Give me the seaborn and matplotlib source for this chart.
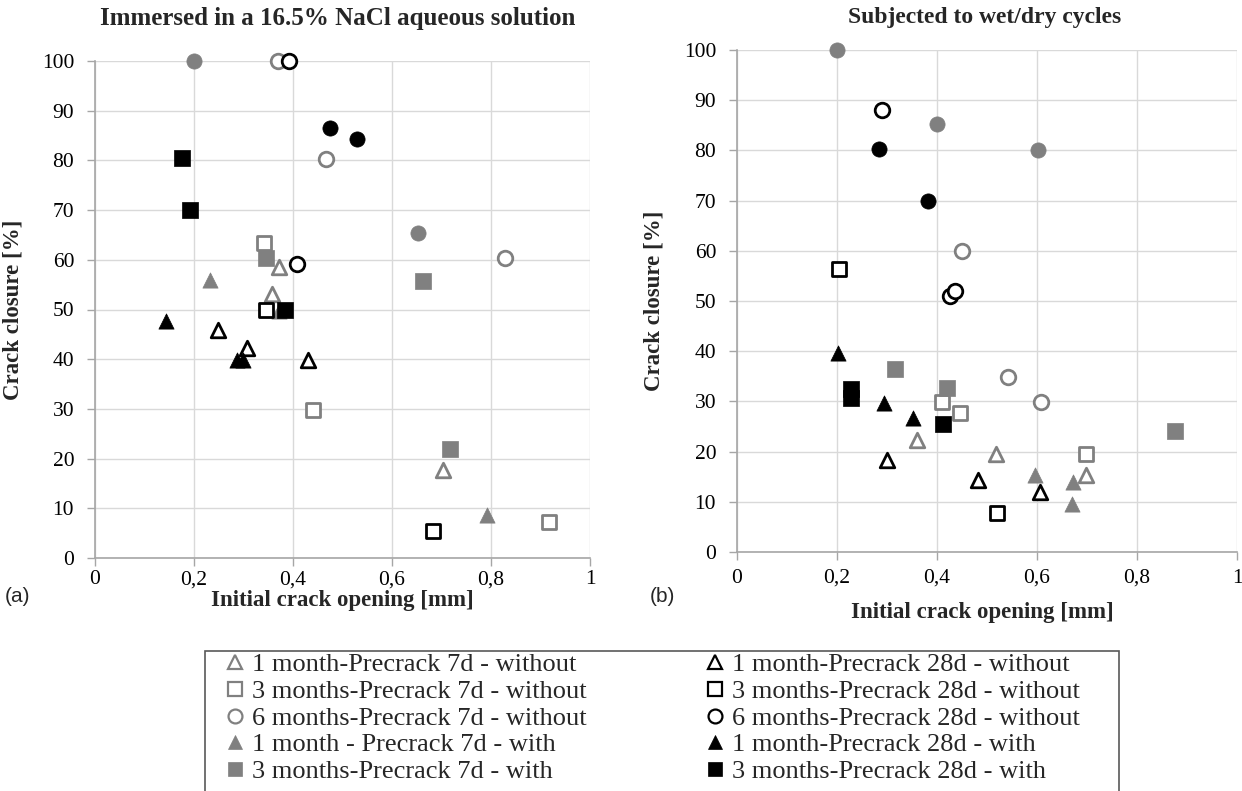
import matplotlib
matplotlib.use("Agg")
import matplotlib.pyplot as plt
from matplotlib.lines import Line2D
from matplotlib.patches import Rectangle
import seaborn as sns
import pandas as pd

# ---------------- data ----------------
series_names = [
    "1 month-Precrack 7d - without", "3 months-Precrack 7d - without",
    "6 months-Precrack 7d - without", "1 month - Precrack 7d - with",
    "3 months-Precrack 7d - with",
    "1 month-Precrack 28d - without", "3 months-Precrack 28d - without",
    "6 months-Precrack 28d - without", "1 month-Precrack 28d - with",
    "3 months-Precrack 28d - with",
    "6 months-Precrack 7d - with", "6 months-Precrack 28d - with",
]
series_marker = ["^", "s", "o", "^", "s", "^", "s", "o", "^", "s", "o", "o"]
series_color = ["#808080"] * 5 + ["#000000"] * 5 + ["#808080", "#000000"]
series_filled = [False, False, False, True, True,
                 False, False, False, True, True, True, True]

# panel (a): immersed
a_x = {
    0: [0.371, 0.357, 0.703], 1: [0.342, 0.441, 0.918], 2: [0.370, 0.466, 0.829],
    3: [0.233, 0.371, 0.791], 4: [0.345, 0.663, 0.718],
    5: [0.249, 0.308, 0.431], 6: [0.345, 0.683], 7: [0.392, 0.409],
    8: [0.143, 0.286, 0.299], 9: [0.175, 0.191, 0.383],
    10: [0.200, 0.653], 11: [0.475, 0.530],
}
a_y = {
    0: [58.6, 53.2, 17.8], 1: [63.3, 29.7, 7.3], 2: [100.0, 80.3, 60.4],
    3: [56.0, 49.6, 8.7], 4: [60.4, 55.8, 21.9],
    5: [45.9, 42.2, 39.8], 6: [50.0, 5.4], 7: [100.0, 59.2],
    8: [47.7, 39.8, 39.8], 9: [80.5, 70.0, 50.0],
    10: [100.0, 65.3], 11: [86.5, 84.3],
}
# panel (b): wet/dry cycles
b_x = {
    0: [0.359, 0.517, 0.698], 1: [0.410, 0.446, 0.697], 2: [0.449, 0.541, 0.608],
    3: [0.596, 0.672, 0.669], 4: [0.315, 0.420, 0.876],
    5: [0.300, 0.481, 0.605], 6: [0.204, 0.519], 7: [0.290, 0.425, 0.435],
    8: [0.201, 0.293, 0.352], 9: [0.228, 0.228, 0.411],
    10: [0.200, 0.399, 0.602], 11: [0.284, 0.382],
}
b_y = {
    0: [22.3, 19.6, 15.3], 1: [29.9, 27.6, 19.6], 2: [59.9, 34.9, 29.8],
    3: [15.3, 14.0, 9.5], 4: [36.4, 32.6, 24.1],
    5: [18.3, 14.3, 12.0], 6: [56.4, 7.8], 7: [88.1, 51.0, 52.0],
    8: [39.7, 29.6, 26.6], 9: [32.4, 30.6, 25.5],
    10: [100.0, 85.3, 80.1], 11: [80.3, 70.0],
}

titles = ["Immersed in a 16.5% NaCl aqueous solution", "Subjected to wet/dry cycles"]
x_ticks = [0, 0.2, 0.4, 0.6, 0.8, 1.0]
x_tick_labels = ["0", "0,2", "0,4", "0,6", "0,8", "1"]
y_ticks = list(range(0, 101, 10))
panel_tags = ["(a)", "(b)"]

# ---------------- style ----------------
sns.set_style("white")
plt.rcParams["font.family"] = ["Liberation Serif", "DejaVu Serif"]

W, H = 1242, 791
fig = plt.figure(figsize=(W / 100, H / 100), dpi=100)
ax_a = fig.add_axes([95 / W, 1 - 558 / H, 495 / W, 497 / H])
ax_b = fig.add_axes([737 / W, 1 - 552 / H, 500 / W, 502 / H])

def draw_panel(ax, xs, ys, xpad):
    for i in range(len(series_names)):
        df = pd.DataFrame({"x": xs[i], "y": ys[i]})
        col = series_color[i]
        if series_filled[i]:
            sns.scatterplot(data=df, x="x", y="y", ax=ax, marker=series_marker[i],
                            color=col, edgecolor=col, s=120, linewidth=0.5,
                            clip_on=False, zorder=3, legend=False)
        else:
            sns.scatterplot(data=df, x="x", y="y", ax=ax, marker=series_marker[i],
                            color="white", edgecolor=col, s=110, linewidth=2.0,
                            clip_on=False, zorder=3, legend=False)
    ax.set_xlim(0, 1)
    ax.set_ylim(0, 100)
    ax.set_xticks(x_ticks)
    ax.set_xticklabels(x_tick_labels)
    ax.set_yticks(y_ticks)
    ax.grid(True, color="#d9d9d9", linewidth=1.0)
    ax.set_axisbelow(True)
    for sp in ["top", "right"]:
        ax.spines[sp].set_visible(False)
    for sp in ["left", "bottom"]:
        ax.spines[sp].set_color("#a6a6a6")
        ax.spines[sp].set_linewidth(1.2)
    ax.tick_params(axis="both", which="major", labelsize=15.5, colors="#a6a6a6",
                   labelcolor="black", length=6, width=1.0, direction="out",
                   left=True, bottom=True)
    ax.tick_params(axis="y", pad=9)
    ax.tick_params(axis="x", pad=xpad)
    ax.set_xlabel("Initial crack opening [mm]", fontsize=16.5, fontweight="bold")
    ax.set_ylabel("Crack closure [%]", fontsize=16.5, fontweight="bold")
    ax.yaxis.set_label_coords(-0.145, 0.5)

draw_panel(ax_a, a_x, a_y, 3)
draw_panel(ax_b, b_x, b_y, 6)
ax_a.xaxis.set_label_coords(0.5, -0.064)
ax_b.xaxis.set_label_coords(0.49, -0.100)

fig.text(338 / W, 1 - 18 / H, titles[0], fontsize=18, fontweight="bold",
         ha="center", va="center")
fig.text(985 / W, 1 - 18 / H, titles[1], fontsize=17, fontweight="bold",
         ha="center", va="center")

fig.text(5 / W, 1 - 597 / H, panel_tags[0], fontsize=15,
         family=["Liberation Sans", "DejaVu Sans"], va="center", ha="left")
fig.text(650 / W, 1 - 597 / H, panel_tags[1], fontsize=15,
         family=["Liberation Sans", "DejaVu Sans"], va="center", ha="left")

# legend frame (continues below the figure edge, as in the source)
fig.patches.append(Rectangle((205 / W, -0.05), (1119 - 205) / W, 0.05 + 1 - 651 / H,
                             transform=fig.transFigure, fill=False,
                             edgecolor="#595959", linewidth=1.2))

def make_handle(i):
    col = series_color[i]
    if series_filled[i]:
        return Line2D([], [], linestyle="none", marker=series_marker[i], markersize=10,
                      markerfacecolor=col, markeredgecolor=col, markeredgewidth=0.5)
    return Line2D([], [], linestyle="none", marker=series_marker[i], markersize=10,
                  markerfacecolor="white", markeredgecolor=col, markeredgewidth=1.6)

leg_kw = dict(loc="upper left", fontsize=19, frameon=False, handlelength=1.0,
              handletextpad=0.15, labelspacing=0.12, borderpad=0, borderaxespad=0)
leg1 = fig.legend([make_handle(i) for i in range(5)], series_names[0:5],
                  bbox_to_anchor=(222 / W, 1 - 653 / H), **leg_kw)
leg2 = fig.legend([make_handle(i) for i in range(5, 10)], series_names[5:10],
                  bbox_to_anchor=(702 / W, 1 - 653 / H), **leg_kw)

fig.savefig("out.png", dpi=100)
